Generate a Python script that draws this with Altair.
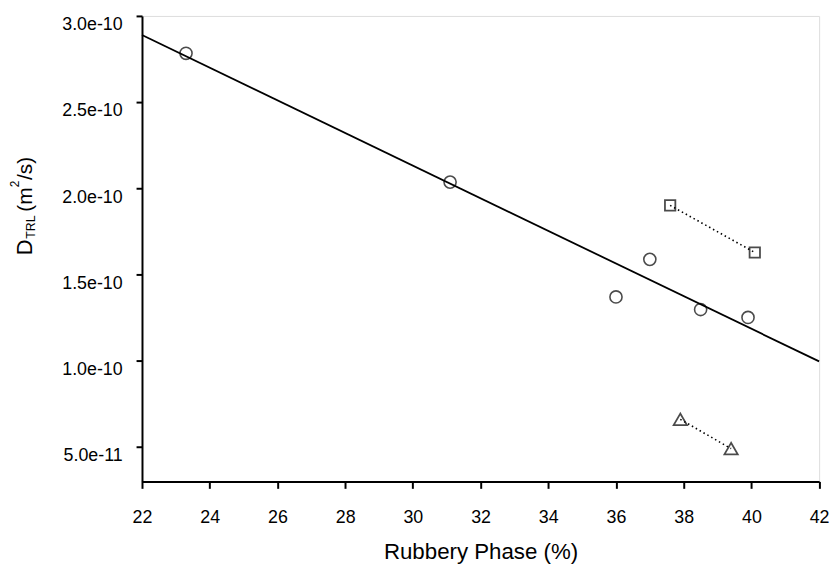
import altair as alt
import pandas as pd

# ---- data ----
circle_x = [23.3, 31.1, 36.0, 37.0, 38.5, 39.9]
circle_y = [2.783e-10, 2.036e-10, 1.370e-10, 1.588e-10, 1.297e-10, 1.251e-10]

square_x = [37.6, 40.1]
square_y = [1.901e-10, 1.628e-10]

tri_x = [37.9, 39.4]
tri_y = [6.6e-11, 4.9e-11]

fit_x = [22, 42]
fit_y = [2.889e-10, 9.96e-11]

x_ticks = list(range(22, 43, 2))
y_ticks = [5e-11, 1e-10, 1.5e-10, 2e-10, 2.5e-10, 3e-10]

FONT = "Liberation Sans"

circles = pd.DataFrame({"x": circle_x, "y": circle_y})
squares = pd.DataFrame({"x": square_x, "y": square_y, "s": "sq"})
tris = pd.DataFrame({"x": tri_x, "y": tri_y, "s": "tri"})
fit = pd.DataFrame({"x": fit_x, "y": fit_y})

xs = alt.Scale(domain=[22, 42], nice=False, zero=False)
ys = alt.Scale(domain=[3e-11, 3e-10], nice=False, zero=False)

X = alt.X("x:Q", scale=xs, axis=alt.Axis(
    values=x_ticks, format="d", title="Rubbery Phase (%)",
    titleFont=FONT, titleFontSize=22.5, titleFontWeight="normal",
    titleBaseline="alphabetic", titleY=78, titleColor="black",
    labelFont=FONT, labelFontSize=18, labelPadding=21, labelColor="black",
    tickSize=7, tickWidth=2, tickColor="black",
    domainWidth=2, domainColor="black", grid=False, labelFlush=False))
Y = alt.Y("y:Q", scale=ys, axis=alt.Axis(
    values=y_ticks, format=".1e", title=None,
    labelFont=FONT, labelFontSize=18, labelPadding=14, labelColor="black",
    labelBaseline="top",
    tickSize=6, tickWidth=2, tickColor="black",
    domainWidth=2, domainColor="black", grid=False, labelFlush=False))

fit_line = alt.Chart(fit).mark_line(color="black", strokeWidth=1.8).encode(x=X, y=Y)

dotted = alt.Chart(pd.concat([squares, tris])).mark_line(
    color="black", strokeWidth=1.6, strokeDash=[1.5, 3]
).encode(x=X, y=Y, detail="s:N")

pts_c = alt.Chart(circles).mark_point(
    shape="circle", size=150, filled=False, color="black", strokeWidth=1.6
).encode(x=X, y=Y)
pts_s = alt.Chart(squares).mark_point(
    shape="square", size=110, filled=False, color="black", strokeWidth=1.8
).encode(x=X, y=Y)
pts_t = alt.Chart(tris).mark_point(
    shape="triangle-up", size=180, filled=False, color="black", strokeWidth=1.8
).encode(x=X, y=Y)

# rotated y title: D_TRL (m^2/s)
one = pd.DataFrame({"t": [0]})


def ttl(text, size, xv, yv):
    return alt.Chart(one).mark_text(
        font=FONT, fontSize=size, angle=270, align="left",
        baseline="alphabetic", color="black"
    ).encode(x=alt.value(xv), y=alt.value(yv), text=alt.value(text))


t_d = ttl("D", 22, -111.3, 241.7)
t_sub = ttl("TRL", 12.5, -108.3, 225.0)
t_open = ttl("(m", 21, -111.3, 197.7)
t_sup = ttl("2", 12, -124.3, 173.0)
t_close = ttl("/s)", 21, -111.3, 165.7)

chart = alt.layer(
    fit_line, dotted, pts_c, pts_s, pts_t, t_d, t_sub, t_open, t_sup, t_close
).properties(
    width=683.7, height=470,
    autosize=alt.AutoSizeParams(type="none"),
    padding={"left": 135.3, "top": 5.3, "right": 12, "bottom": 82},
).configure_view(stroke="black", strokeWidth=1.5).configure(background="white")

chart.save("out.html", embed_options={"renderer": "svg", "actions": False})
